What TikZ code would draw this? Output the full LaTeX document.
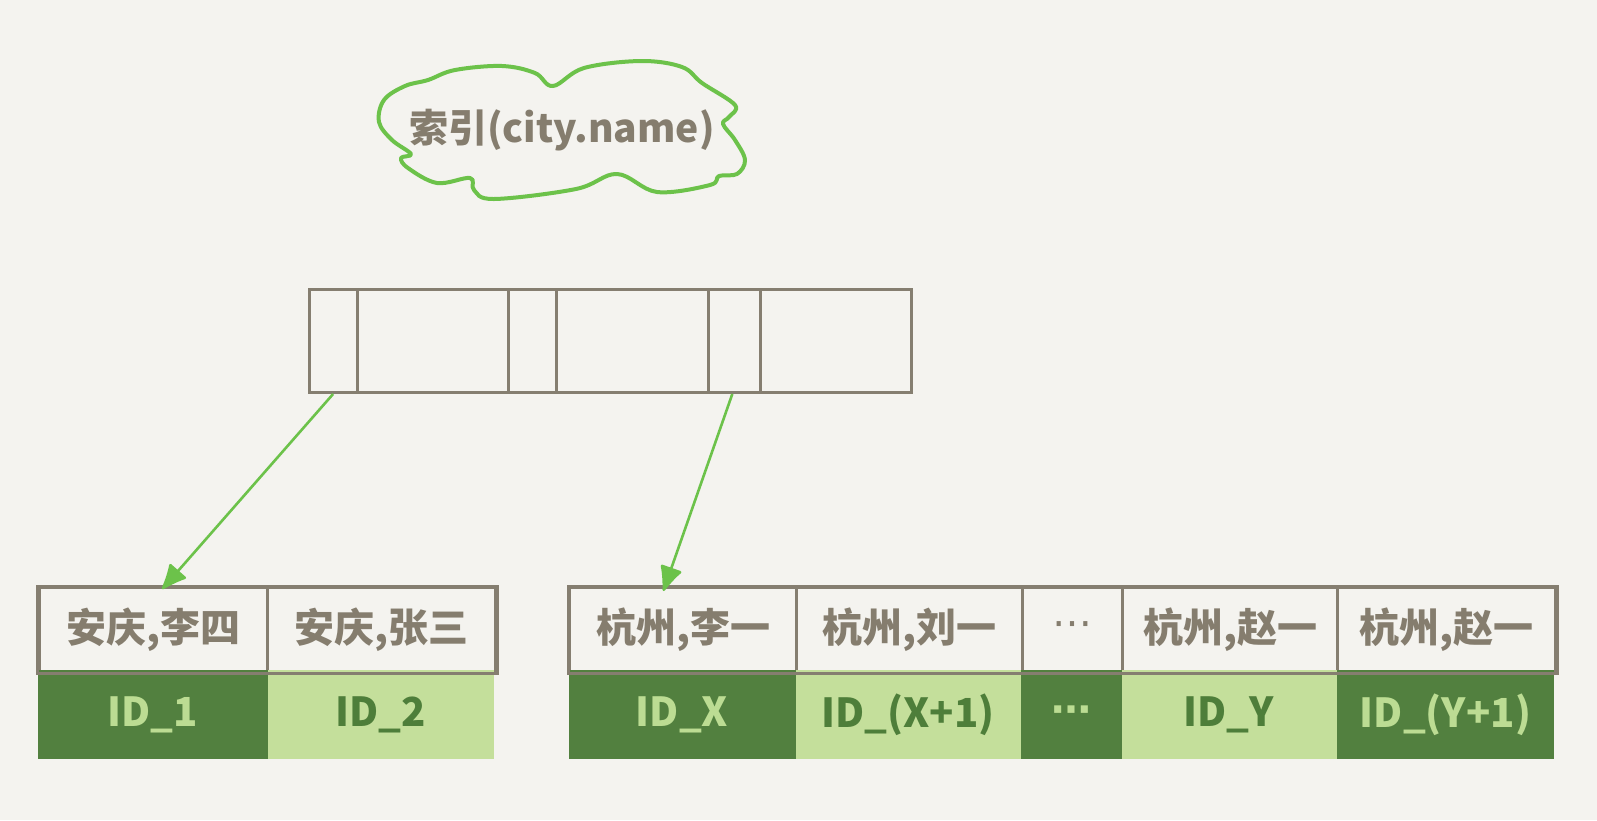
\documentclass[tikz,border=0pt]{standalone}
\usepackage{fontspec}
\setmainfont{Noto Sans CJK SC}
\newfontfamily\dotsfont{DejaVu Sans}
\usetikzlibrary{arrows.meta,calc}
\definecolor{bgc}{HTML}{F4F3EF}
\definecolor{boxline}{HTML}{857E70}
\definecolor{cloudg}{HTML}{6CC24A}
\definecolor{darkg}{HTML}{52803F}
\definecolor{lightg}{HTML}{C4DF9B}
\definecolor{txtgray}{HTML}{857D6E}
\definecolor{txtlight}{HTML}{BCDC93}
\definecolor{txtdark}{HTML}{4E7E3A}
\tikzset{
  topcell/.style={draw=boxline,line width=3pt,anchor=north west,inner sep=0pt,minimum height=103pt},
  keycell/.style={draw=boxline,line width=3pt,anchor=north west,inner sep=0pt,minimum height=84pt,
    text=txtgray,font=\fontsize{40}{46}\selectfont\bfseries},
  iddark/.style={fill=darkg,anchor=north west,inner sep=0pt,minimum height=89pt,
    text=txtlight,font=\fontsize{40}{46}\selectfont\bfseries},
  idlight/.style={fill=lightg,anchor=north west,inner sep=0pt,minimum height=89pt,
    text=txtdark,font=\fontsize{40}{46}\selectfont\bfseries},
  ptr/.style={draw=cloudg,line width=2.6pt,-{Latex[length=28pt,width=24pt,round]}},
}
\begin{document}
\begin{tikzpicture}[x=1pt,y=-1pt]
\useasboundingbox (0,0) rectangle (1597,820);
\fill[bgc] (0,0) rectangle (1597,820);

% cloud
\draw[cloudg,line width=4pt,line join=round] plot[smooth cycle,tension=0.6] coordinates {
 (379,122) (384,100) (405,86) (428,80) (455,70) (502,66) (535,73) (553,86) (584,68) (641,61)
 (682,67) (702,83) (735,105) (729,117) (723,124) (735,140) (745,160) (737,174)
 (719,176) (710,185) (657,192) (617,174) (576,189) (494,199) (474,190) (470,178)
 (437,183) (408,168) (401,158) (411,154) (392,140)};
\node[text=txtgray,font=\fontsize{39}{46}\selectfont\bfseries] (cloud) at (562,130) {索引(city.name)};

% top index node
\node[topcell,minimum width=48pt] (t1) at (307.6,288) {};
\node[topcell,minimum width=151.7pt] (t2) at (355.5,288) {};
\node[topcell,minimum width=47.9pt] (t3) at (507.2,288) {};
\node[topcell,minimum width=151.7pt] (t4) at (555.1,288) {};
\node[topcell,minimum width=52pt] (t5) at (706.8,288) {};
\node[topcell,minimum width=150.7pt] (t6) at (758.8,288) {};

% left leaf
\node[keycell,minimum width=228.1pt] (l1) at (37.7,586) {安庆,李四};
\node[keycell,minimum width=228.2pt] (l2) at (265.8,586) {安庆,张三};
\node[iddark,minimum width=230pt] (li1) at (37.7,670) {ID\_1};
\node[idlight,minimum width=226pt] (li2) at (267.7,670) {ID\_2};
\draw[boxline,line width=3pt] (l1.north west) rectangle (l2.south east);

% right leaf
\node[keycell,minimum width=227.1pt] (r1) at (568.3,586) {杭州,李一};
\node[keycell,minimum width=225.1pt] (r2) at (795.4,586) {杭州,刘一};
\node[keycell,minimum width=100.8pt] (r3) at (1020.5,586) {\dotsfont\mdseries ⋯};
\node[keycell,minimum width=215pt] (r4) at (1121.3,586) {杭州,赵一};
\node[keycell,minimum width=217.9pt] (r5) at (1336.3,586) {杭州,赵一};
\node[iddark,minimum width=227.1pt] (ri1) at (568.3,670) {ID\_X};
\node[idlight,minimum width=225.1pt] (ri2) at (795.4,670) {ID\_(X+1)};
\node[iddark,minimum width=100.8pt] (ri3) at (1020.5,670) {\dotsfont ⋯};
\node[idlight,minimum width=215pt] (ri4) at (1121.3,670) {ID\_Y};
\node[iddark,minimum width=217.9pt] (ri5) at (1336.3,670) {ID\_(Y+1)};
\draw[boxline,line width=3pt] (r1.north west) rectangle (r5.south east);

% pointers
\coordinate (e1) at ($(l1.north)+(9,3)$);
\coordinate (e2) at ($(r1.north)+(-20,5)$);
\draw[ptr] (t1.south) -- (e1);
\draw[ptr] ($(t5.south)+(-2,0)$) -- (e2);
\end{tikzpicture}
\end{document}
